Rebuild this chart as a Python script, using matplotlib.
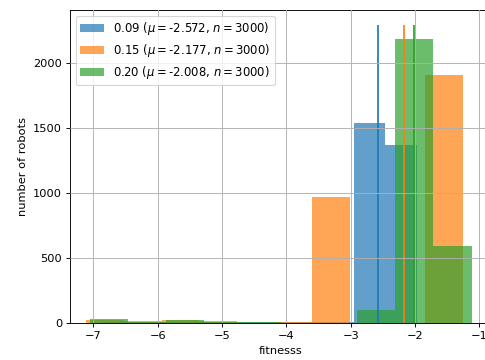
import numpy as np
import matplotlib
matplotlib.use("Agg")
import matplotlib.pyplot as plt

# histogram data (10 bins per series)
names = ["0.09", "0.15", "0.20"]
means = [-2.572, -2.177, -2.008]
sizes = [3000, 3000, 3000]
ranges = [(-6.87, -1.97), (-7.11, -1.26), (-7.06, -1.12)]
counts_009 = [10, 8, 15, 12, 10, 12, 14, 12, 1540, 1367]
counts_015 = [25, 20, 25, 20, 6, 8, 970, 0, 0, 1908]
counts_020 = [31, 12, 30, 10, 8, 6, 4, 100, 2182, 592]
all_counts = [counts_009, counts_015, counts_020]
colors = ["tab:blue", "tab:orange", "tab:green"]

dpi = 82
fig = plt.figure(figsize=(485 / dpi, 360 / dpi), dpi=dpi)
ax = fig.add_axes([0.1443, 0.1014, 0.869, 0.871])

for name, mu, n, (lo, hi), counts, c in zip(names, means, sizes, ranges, all_counts, colors):
    edges = np.linspace(lo, hi, len(counts) + 1)
    centers = (edges[:-1] + edges[1:]) / 2
    ax.hist(centers, bins=edges, weights=counts, alpha=0.7, color=c,
            label=f"{name} ($\\mu=${mu:.3f}, $n=${n})")

top = max(max(c) for c in all_counts) * 1.05
for mu, c in zip(means, colors):
    ax.vlines(mu, 0, top, color=c, linewidth=1.5)

ax.set_xlim(-7.365, -0.81)
ax.set_ylim(0, top * 1.05)
ax.set_xticks([-7, -6, -5, -4, -3, -2, -1])
ax.set_yticks([0, 500, 1000, 1500, 2000])
ax.grid(True)
ax.set_axisbelow(False)
ax.set_xlabel("fitnesss")
ax.set_ylabel("number of robots")
ax.legend(loc="upper left", fontsize=10.2, labelspacing=0.4)

fig.savefig("out.png", dpi=dpi)
